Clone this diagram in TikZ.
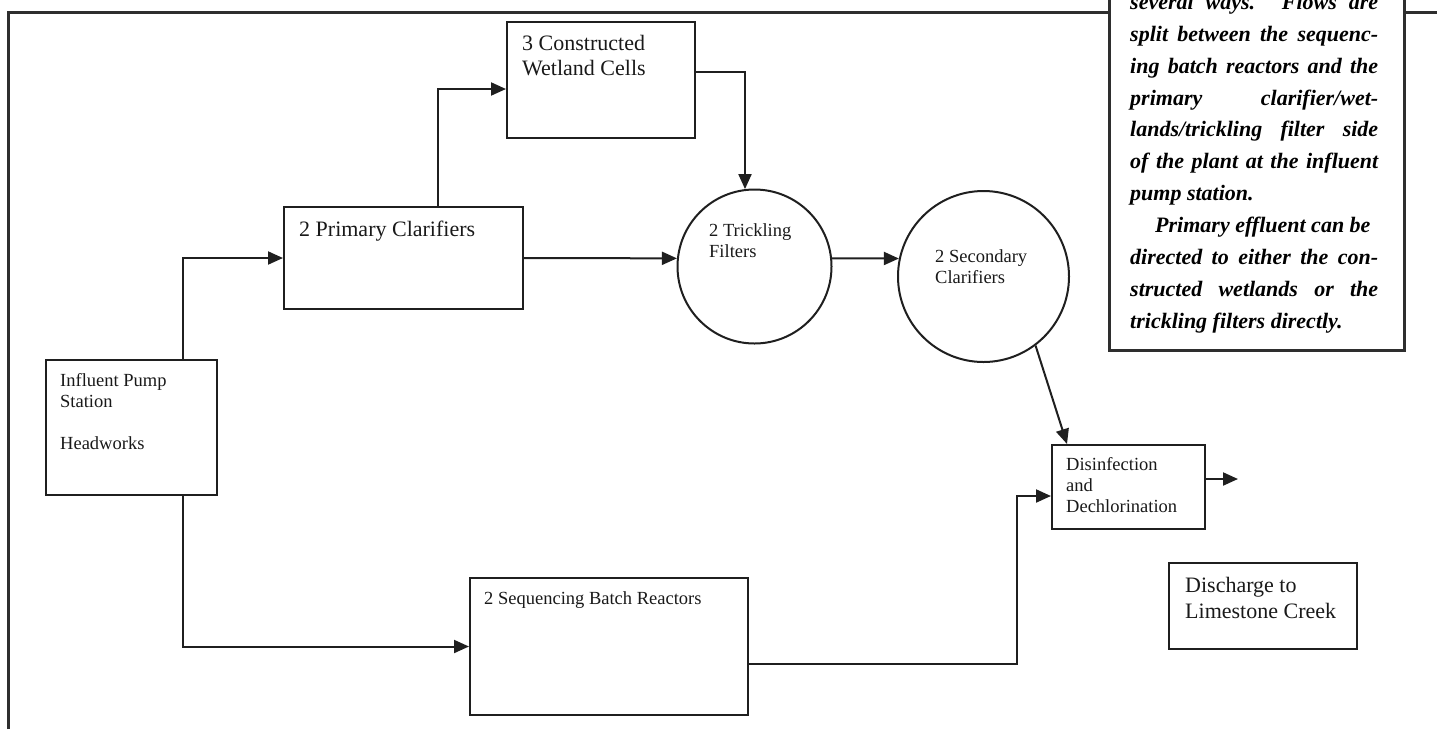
\documentclass[tikz,border=0pt]{standalone}
\usepackage{fontspec}
\setmainfont{Liberation Serif}
\usetikzlibrary{arrows.meta,calc}
\newcommand\fbig{\fontsize{22}{25}\selectfont}
\newcommand\fsmall{\fontsize{18.5}{21}\selectfont}
\newcommand\capline[1]{\makebox[\linewidth][s]{#1}\par}
\newcommand\tl[1]{\begin{tabular}[t]{@{}l@{}}#1\end{tabular}}
\begin{document}
\begin{tikzpicture}[x=1pt,y=-1pt,
  box/.style={draw=black!88, line width=2pt, rectangle, inner sep=0pt},
  disc/.style={draw=black!88, line width=2pt, circle, inner sep=0pt},
  lbl/.style={anchor=base west, inner sep=0pt, text=black!90},
  arr/.style={draw=black!88, line width=2pt, -{Triangle[length=15pt,width=13pt]}},
  frame/.style={draw=black!82, line width=3pt}]
\useasboundingbox (0,0) rectangle (1437,729);
% outer frame
\draw[frame] (8,729) -- (8,12) -- (1108,12);
\draw[frame] (1403,12) -- (1437,12);
% caption box
\node[draw=black!82, line width=3pt, rectangle, inner sep=0pt, minimum width=295pt, minimum height=400pt, anchor=south west] (capbox) at (1108,352) {};
\node[anchor=base west, inner sep=0pt] (captext) at (1130,9.5) {\parbox[t]{248pt}{\fontsize{22}{31.85}\selectfont\bfseries\itshape\parindent=0pt
\capline{several ways. Flows are}
\capline{split between the sequenc-}
\capline{ing batch reactors and the}
\capline{primary clarifier/wet-}
\capline{lands/trickling filter side}
\capline{of the plant at the influent}
pump station.\par
\hspace*{25pt}Primary effluent can be\par
\capline{directed to either the con-}
\capline{structed wetlands or the}
trickling filters directly.\par}};
% process nodes
\node[box, minimum width=171pt, minimum height=135pt] (inf) at (131.5,427.5) {};
\node[lbl, font=\fsmall] (inftxt) at (60,386) {\tl{Influent Pump\\Station\\ \\Headworks}};
\node[box, minimum width=239pt, minimum height=102pt] (prim) at (403.5,258) {};
\node[lbl, font=\fbig] (primtxt) at (299,236.5) {2 Primary Clarifiers};
\node[box, minimum width=188pt, minimum height=116pt] (wet) at (601,80) {};
\node[lbl, font=\fbig] (wettxt) at (522,50) {\tl{3 Constructed\\Wetland Cells}};
\node[disc, minimum size=154pt] (trick) at (754.5,266.5) {};
\node[lbl, font=\fsmall] (tricktxt) at (709,236) {\tl{2 Trickling\\Filters}};
\node[disc, minimum size=171pt] (sec) at (983.5,276.5) {};
\node[lbl, font=\fsmall] (sectxt) at (935,262) {\tl{2 Secondary\\Clarifiers}};
\node[box, minimum width=153pt, minimum height=84pt] (dis) at (1128.5,487) {};
\node[lbl, font=\fsmall] (distxt) at (1066,470) {\tl{Disinfection\\and\\Dechlorination}};
\node[box, minimum width=188pt, minimum height=86pt] (dsc) at (1263,606) {};
\node[lbl, font={\fontsize{22}{26}\selectfont}] (dsctxt) at (1185,592.5) {\tl{Discharge to\\Limestone Creek}};
\node[box, minimum width=278pt, minimum height=137pt] (sbr) at (609,646.5) {};
\node[lbl, font=\fsmall] (sbrtxt) at (484,604) {2 Sequencing Batch Reactors};
% bend points
\coordinate (j1) at (183,259);
\coordinate (j2) at (438,89);
\coordinate (j3) at (745,72);
\coordinate (j4) at (1017,664);
\coordinate (j5) at (1017,496);
\coordinate (o1) at (1238,479);
% connectors
\draw[arr] (inf.north -| j1) |- (prim.west);
\draw[arr] (inf.south -| j1) |- (sbr.west);
\draw[arr] (prim.north -| j2) |- (wet.west |- j2);
\draw[arr] (wet.east |- j3) -| (trick.97);
\draw[arr] (prim.east) -- (trick.174);
\draw[arr] (trick.6) -- (sec.168);
\draw[arr] (sec.-53) -- ($(dis.north west)+(16,0)$);
\draw[arr] (sbr.east |- j4) -- (j4) -- (j5) -- (dis.west |- j5);
\draw[arr] (dis.east |- o1) -- (o1);
\end{tikzpicture}
\end{document}
